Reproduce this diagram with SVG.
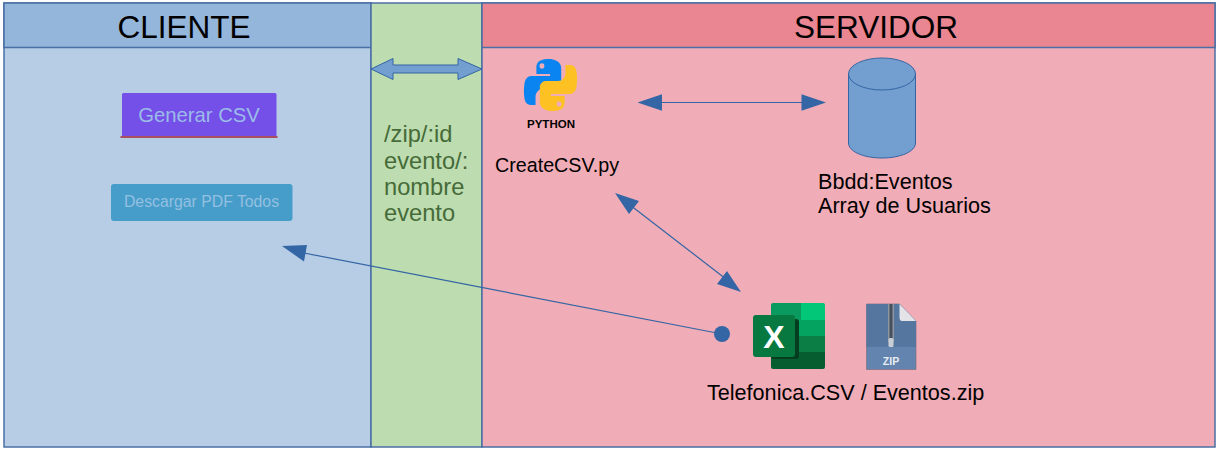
<svg xmlns="http://www.w3.org/2000/svg" width="1220" height="451" viewBox="0 0 1220 451">
<style>
text{font-family:"Liberation Sans",Arial,sans-serif;fill:#000}
.panel{stroke:#4a6fa5;stroke-width:1.5}
.hdr{font-size:31.500px;text-anchor:middle}
.lbl{font-size:21.600px}
.mid{font-size:23.700px;fill:#466b38}
.conn{stroke:#3465a4;stroke-width:1.2;fill:none}
.head{fill:#3465a4}
</style>
<rect width="1220" height="451" fill="#fff"/>
<g id="cliente">
<rect class="panel" x="4" y="3" width="367" height="444" fill="#b7cde6"/>
<rect class="panel" x="4" y="3" width="367" height="44.500" fill="#94b6da"/>
<text class="hdr" x="184" y="38">CLIENTE</text>
</g>
<g id="api">
<rect class="panel" x="371" y="3" width="111" height="444" fill="#bddcb0"/>
<text class="mid" x="384" y="142">/zip/:id</text>
<text class="mid" x="384" y="169">evento/:</text>
<text class="mid" x="384" y="195">nombre</text>
<text class="mid" x="384" y="221">evento</text>
</g>
<g id="servidor">
<rect class="panel" x="482" y="3" width="733" height="444" fill="#f1adb7"/>
<rect class="panel" x="482" y="3" width="733" height="44.500" fill="#e98691"/>
<text class="hdr" x="876" y="38">SERVIDOR</text>
</g>
<g id="btn-generar">
<rect x="122" y="93" width="154.500" height="44" rx="1.500" fill="#744fe8"/>
<rect x="120.500" y="136" width="157" height="2" fill="#a85060"/>
<text x="199" y="122" font-size="20.300" text-anchor="middle" style="fill:#9bbce8">Generar CSV</text>
</g>
<g id="btn-descargar">
<rect x="111" y="184" width="181.500" height="37" rx="3" fill="#479dc9"/>
<text x="201.500" y="207" font-size="15.800" text-anchor="middle" style="fill:#94c0e2">Descargar PDF Todos</text>
</g>
<g id="python">
<g transform="translate(550.500 85) scale(.855 1) translate(-551 -85)">
<path d="M550 59c-4 0-8 .4-10.500 1.500-4 1.500-5 4-5 7.500v6h16v2h-22c-4 0-7.500 3-8 8-.8 5-.8 9 0 14 .6 4 3 7 7.500 7h5.500v-8c0-4.500 4-8 8.500-8h15c3.500 0 6.500-3 6.500-6.500V68c0-4-3-6.500-6.500-7.500-2.500-1-4.500-1.500-7-1.500z" fill="#0a84f0"/>
<circle cx="541" cy="66" r="2.800" fill="#f1adb7"/>
<path d="M552 111c4 0 8-.4 10.500-1.500 4-1.500 5-4 5-7.500v-6h-16v-2h22c4 0 7.500-3 8-8 .8-5 .8-9 0-14-.6-4-3-7-7.500-7h-5.500v8c0 4.500-4 8-8.500 8h-15c-3.500 0-6.500 3-6.500 6.500V102c0 4 3 6.500 6.500 7.500 2.500 1 4.500 1.500 7 1.500z" fill="#fdc123"/>
<circle cx="561" cy="104" r="2.800" fill="#f1adb7"/>
</g>
<text x="551" y="128" font-size="11.500" font-weight="bold" text-anchor="middle">PYTHON</text>
<text x="495" y="172" font-size="19.700">CreateCSV.py</text>
</g>
<g id="bbdd">
<path d="M848.500 74v69c0 8.500 15 15 33.500 15s33.500-6.500 33.500-15V74z" fill="#729fcf" stroke="#3465a4" stroke-width="1"/>
<ellipse cx="882" cy="74" rx="33.500" ry="16" fill="#729fcf" stroke="#3465a4" stroke-width="1"/>
<text class="lbl" x="818" y="189">Bbdd:Eventos</text>
<text class="lbl" x="818" y="213">Array de Usuarios</text>
</g>
<g id="excel">
<path d="M773 303h28v17h-30v-15a2 2 0 0 1 2-2z" fill="#0a9a60"/>
<path d="M801 303h22a2 2 0 0 1 2 2v15h-24z" fill="#02c778"/>
<rect x="771" y="320" width="54" height="16" fill="#04a35f"/>
<rect x="771" y="336" width="54" height="16" fill="#0a7e44"/>
<path d="M771 352h54v15a2 2 0 0 1-2 2h-50a2 2 0 0 1-2-2z" fill="#055d30"/>
<rect x="771" y="319" width="28" height="40" rx="3" fill="#043d20"/>
<rect x="753" y="315" width="42" height="42" rx="3" fill="#07783f"/>
<text x="774" y="348" font-size="32" font-weight="bold" text-anchor="middle" style="fill:#fff">X</text>
</g>
<g id="zip">
<path d="M866.500 304h33l16.500 17v48.500h-49.500z" fill="#6384ae" stroke="#7d6f80" stroke-width=".7"/>
<path d="M866.500 304h33l16.500 17v26h-49.500z" fill="#55779f"/>
<path d="M899.500 304l16.500 17h-14c-2 0-2.500-2-2.500-4z" fill="#e4e4e8"/>
<rect x="888" y="304" width="6" height="38" fill="#8f96a0"/>
<rect x="889.500" y="304" width="3" height="38" fill="#45505f"/>
<rect x="888.500" y="338" width="5" height="9" rx="1.500" fill="#c8ced6"/>
<text x="891" y="365" font-size="10.500" font-weight="bold" text-anchor="middle" style="fill:#e8edf4">ZIP</text>
</g>
<text id="files" class="lbl" x="707" y="400">Telefonica.CSV / Eventos.zip</text>
<g id="connectors">
<path d="M371 69l22-10.500v6.500h65v-6.500l24 10.500-24 10.500v-6.500h-65v6.500z" fill="#729fcf" stroke="#3465a4" stroke-width="1"/>
<path class="conn" d="M660 102.500H803"/>
<path class="head" d="M637.500 102.500l24.500-8.300v16.600zM826 102.500l-24.500-8.300v16.600z"/>
<path class="conn" d="M630 205L726 279"/>
<path class="head" d="M615 193l24 8-10 13zM741 292l-24-8 10-13z"/>
<path class="conn" d="M722 334L304 253"/>
<path class="head" d="M282 246l25-1-3 16.500z"/>
<circle class="head" cx="722" cy="334" r="8"/>
</g>
</svg>
